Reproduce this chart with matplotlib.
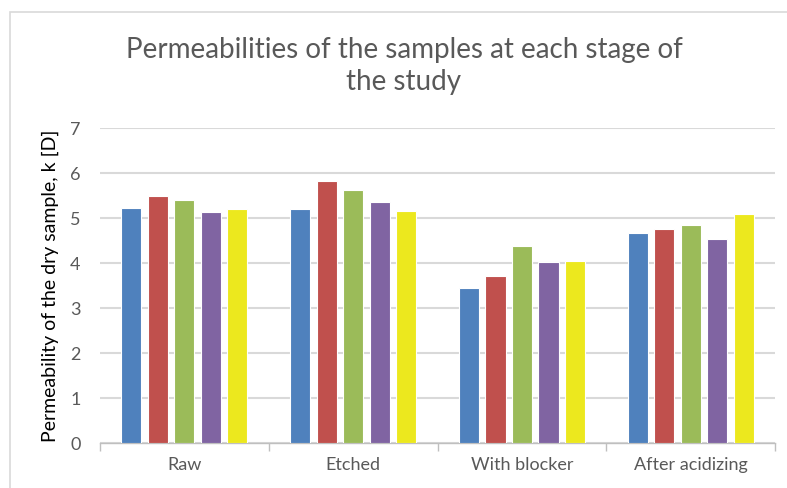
import numpy as np
import matplotlib.pyplot as plt
from matplotlib.patches import Rectangle

plt.rcParams['font.family'] = ['Lato', 'DejaVu Sans']

stages = ['Raw', 'Etched', 'With blocker', 'After acidizing']
sample1 = [5.22, 5.19, 3.44, 4.66]
sample2 = [5.48, 5.83, 3.72, 4.76]
sample3 = [5.39, 5.62, 4.38, 4.84]
sample4 = [5.13, 5.36, 4.02, 4.54]
sample5 = [5.19, 5.15, 4.05, 5.08]
colors = ['#4F81BD', '#C0504D', '#9BBB59', '#8064A2', '#ECE81E']


def plot_chart():
    fig = plt.figure(figsize=(7.87, 4.88), dpi=100)
    fig.patches.append(Rectangle((10 / 787, -0.1), 1.2, 1 - 12 / 488 + 0.1,
                                 transform=fig.transFigure, fill=False,
                                 edgecolor='#D9D9D9', linewidth=1.2))
    ax = fig.add_axes([0.127, 0.0922, 0.858, 0.6455])

    series = [sample1, sample2, sample3, sample4, sample5]
    x = np.arange(len(stages))
    pitch = 0.157
    for i, vals in enumerate(series):
        ax.bar(x + (i - 2) * pitch, vals, width=0.12, color=colors[i],
               edgecolor='white', linewidth=0.8, zorder=3)

    ax.set_xlim(-0.5, len(stages) - 0.5)
    ax.set_ylim(0, 7)
    ax.set_yticks(range(8))
    ax.yaxis.grid(True, color='#D9D9D9', linewidth=1.5, zorder=0)
    ax.set_xticks(x)
    ax.set_xticklabels(stages)
    ax.set_xticks(np.arange(-0.5, len(stages)), minor=True)
    ax.tick_params(axis='x', which='major', length=0, pad=10,
                   labelsize=13, labelcolor='#595959')
    ax.tick_params(axis='x', which='minor', length=6, color='#BFBFBF', width=1)
    ax.tick_params(axis='y', length=0, pad=14, labelsize=13, labelcolor='#595959')
    for side in ['top', 'right', 'left']:
        ax.spines[side].set_visible(False)
    ax.spines['bottom'].set_color('#BFBFBF')
    ax.spines['bottom'].set_linewidth(1)

    ax.set_ylabel('Permeability of the dry sample, k [D]', fontsize=14,
                  color='black', labelpad=8)

    fig.text(404 / 787, 1 - 66 / 488,
             'Permeabilities of the samples at each stage of\nthe study',
             ha='center', va='center', fontsize=20, color='#595959',
             linespacing=1.3)

    fig.savefig('out.png', dpi=100)


def main():
    plot_chart()


if __name__ == "__main__":
    main()
